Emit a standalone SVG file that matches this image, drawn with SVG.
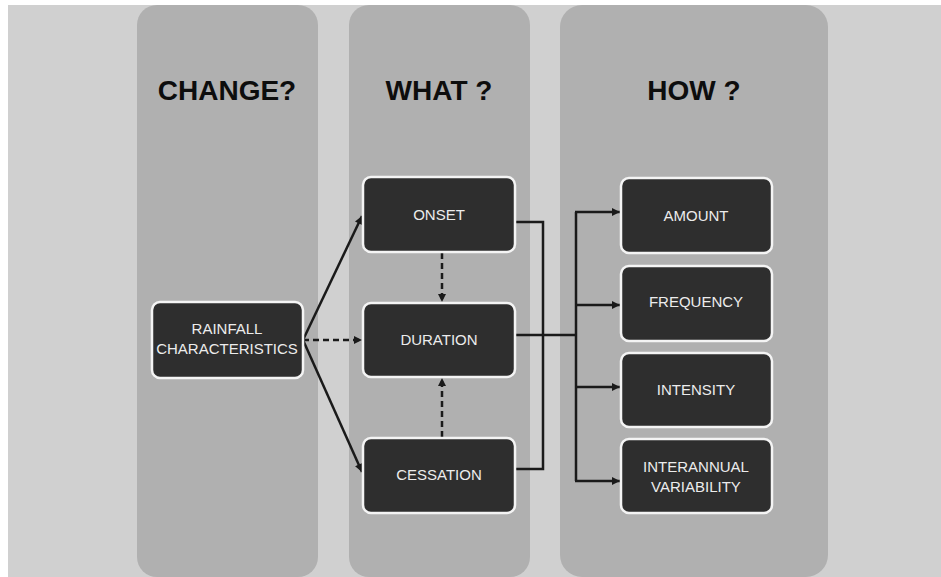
<svg xmlns="http://www.w3.org/2000/svg" width="941" height="577" viewBox="0 0 941 577">
<defs>
<marker id="ah" viewBox="0 0 10 10" refX="10" refY="5" markerWidth="9" markerHeight="8" markerUnits="userSpaceOnUse" orient="auto">
<path d="M0,0 L10,5 L0,10 Z" fill="#1a1a1a"/>
</marker>
<style>
.col{fill:#b0b0b0}
.title{font-family:"Liberation Sans",Arial,sans-serif;font-weight:bold;font-size:28px;fill:#0d0d0d;text-anchor:middle}
.box{fill:#2e2e2e;stroke:#f4f4f4;stroke-width:2.5}
.lbl{font-family:"Liberation Sans",Arial,sans-serif;font-size:15px;fill:#ececec;text-anchor:middle}
.ln{fill:none;stroke:#1a1a1a;stroke-width:2.5}
.dash{stroke-dasharray:6,4}
</style>
</defs>
<rect x="0" y="0" width="941" height="577" fill="#ffffff"/>
<rect x="8" y="5" width="933" height="572" fill="#d0d0d0"/>
<g id="columns">
<rect class="col" x="137" y="5" width="181" height="572" rx="20"/>
<rect class="col" x="349" y="5" width="181" height="572" rx="20"/>
<rect class="col" x="560" y="5" width="268" height="572" rx="22"/>
<text class="title" x="227" y="100">CHANGE?</text>
<text class="title" x="439" y="100">WHAT ?</text>
<text class="title" x="694" y="100">HOW ?</text>
</g>
<g id="connectors">
<path class="ln" d="M303,340 L362,216" marker-end="url(#ah)"/>
<path class="ln" d="M303,340 L362,472" marker-end="url(#ah)"/>
<path class="ln dash" d="M303,340 L362,340" marker-end="url(#ah)"/>
<path class="ln dash" d="M442,253 L442,302" marker-end="url(#ah)"/>
<path class="ln dash" d="M442,437 L442,378" marker-end="url(#ah)"/>
<path class="ln" d="M515,222 L543,222 L543,469 L515,469"/>
<path class="ln" d="M515,335 L576,335"/>
<path class="ln" d="M576,212 L576,481"/>
<path class="ln" d="M575,212 L620,212" marker-end="url(#ah)"/>
<path class="ln" d="M576,305 L620,305" marker-end="url(#ah)"/>
<path class="ln" d="M576,387 L620,387" marker-end="url(#ah)"/>
<path class="ln" d="M575,481 L620,481" marker-end="url(#ah)"/>
</g>
<g id="rainfall">
<rect class="box" x="152" y="302" width="151" height="76" rx="8"/>
<text class="lbl" x="227" y="334">RAINFALL</text>
<text class="lbl" x="227" y="354">CHARACTERISTICS</text>
</g>
<g id="onset">
<rect class="box" x="363" y="177" width="152" height="75" rx="8"/>
<text class="lbl" x="439" y="220">ONSET</text>
</g>
<g id="duration">
<rect class="box" x="363" y="303" width="152" height="74" rx="8"/>
<text class="lbl" x="439" y="345">DURATION</text>
</g>
<g id="cessation">
<rect class="box" x="363" y="438" width="152" height="75" rx="8"/>
<text class="lbl" x="439" y="480">CESSATION</text>
</g>
<g id="amount">
<rect class="box" x="621" y="178" width="151" height="75" rx="8"/>
<text class="lbl" x="696" y="221">AMOUNT</text>
</g>
<g id="frequency">
<rect class="box" x="621" y="266" width="151" height="75" rx="8"/>
<text class="lbl" x="696" y="307">FREQUENCY</text>
</g>
<g id="intensity">
<rect class="box" x="621" y="353" width="151" height="74" rx="8"/>
<text class="lbl" x="696" y="395">INTENSITY</text>
</g>
<g id="interannual">
<rect class="box" x="621" y="439" width="151" height="74" rx="8"/>
<text class="lbl" x="696" y="472">INTERANNUAL</text>
<text class="lbl" x="696" y="492">VARIABILITY</text>
</g>
</svg>
